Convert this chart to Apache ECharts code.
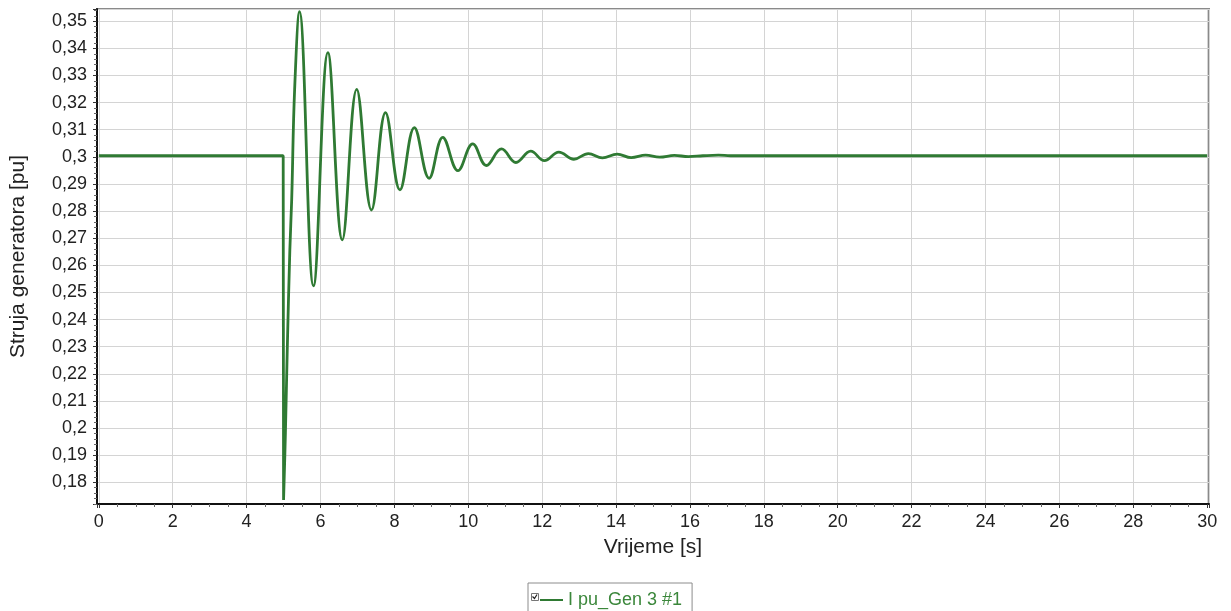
<!DOCTYPE html>
<html>
<head>
<meta charset="utf-8">
<script src="https://cdn.jsdelivr.net/npm/echarts@6/dist/echarts.min.js"></script>
<style>
  html, body { margin: 0; padding: 0; background: #ffffff; }
  #chart { width: 1231px; height: 611px; }
</style>
</head>
<body>
<div id="chart"></div>
<script>
// Time samples [s]
var times = [0, 4.99, 5.0, 5.05, 5.10, 5.17, 5.22, 5.30, 5.43, 5.81, 6.20, 6.59, 6.98, 7.38, 7.76, 8.15, 8.54, 8.94, 9.31, 9.72, 10.12, 10.49, 10.90, 11.29, 11.69, 12.06, 12.45, 12.86, 13.25, 13.63, 14.03, 14.41, 14.80, 15.18, 15.58, 15.96, 16.35, 16.77, 17.1, 30];
// Generator current [pu]
var currentPu = [0.3004, 0.3004, 0.1735, 0.1982, 0.2289, 0.2657, 0.2842, 0.3250, 0.3535, 0.2524, 0.3384, 0.2694, 0.3249, 0.2804, 0.3163, 0.2878, 0.3108, 0.2921, 0.3072, 0.2949, 0.3048, 0.2968, 0.3029, 0.2979, 0.3021, 0.2986, 0.3017, 0.2991, 0.3012, 0.2996, 0.3010, 0.2997, 0.3006, 0.2999, 0.3005, 0.3001, 0.3004, 0.3006, 0.3004, 0.3004];
var seriesName = 'I pu_Gen 3 #1';
var xAxisName = 'Vrijeme [s]';
var yAxisName = 'Struja generatora [pu]';

var data = times.map(function (t, i) { return [t, currentPu[i]]; });

var chart = echarts.init(document.getElementById('chart'), null, { renderer: 'canvas' });
var FONT = '"Liberation Sans", Arial, sans-serif';

chart.setOption({
  animation: false,
  backgroundColor: '#ffffff',
  grid: {
    left: 96, right: 22, top: 9, bottom: 107,
    show: true, borderColor: '#8a8a8a', borderWidth: 2, backgroundColor: 'transparent'
  },
  xAxis: {
    type: 'value',
    min: -0.05, max: 30.05,
    minInterval: 2, maxInterval: 2, splitNumber: 15,
    name: xAxisName,
    nameLocation: 'middle', nameGap: 33,
    nameTextStyle: { fontFamily: FONT, fontSize: 21, color: '#222' },
    axisLine: { show: true, onZero: false, lineStyle: { color: '#111', width: 2 } },
    axisTick: { show: true, length: 4, lineStyle: { color: '#333' } },
    minorTick: { show: true, splitNumber: 4, length: 3, lineStyle: { color: '#666' } },
    axisLabel: {
      fontFamily: FONT, fontSize: 18, color: '#222', margin: 9,
      showMinLabel: false, showMaxLabel: false,
      formatter: function (v) { return String(Math.round(v)); }
    },
    splitLine: { show: true, lineStyle: { color: '#d4d4d4', width: 1 } }
  },
  yAxis: {
    type: 'value',
    min: 0.172, max: 0.3545,
    minInterval: 0.01, maxInterval: 0.01, splitNumber: 18,
    name: yAxisName,
    nameLocation: 'middle', nameGap: 68,
    nameTextStyle: { fontFamily: FONT, fontSize: 21, color: '#222' },
    axisLine: { show: true, onZero: false, lineStyle: { color: '#111', width: 2 } },
    axisTick: { show: true, length: 4, lineStyle: { color: '#333' } },
    minorTick: { show: true, splitNumber: 5, length: 3, lineStyle: { color: '#666' } },
    axisLabel: {
      fontFamily: FONT, fontSize: 18, color: '#222', margin: 10,
      showMinLabel: false, showMaxLabel: false,
      formatter: function (v) { return String(+v.toFixed(2)).replace('.', ','); }
    },
    splitLine: { show: true, lineStyle: { color: '#d4d4d4', width: 1 } }
  },
  legend: {
    data: [seriesName],
    left: 528, top: 583,
    padding: [8, 10, 12, 12],
    borderColor: '#8c8c8c', borderWidth: 1,
    icon: 'rect', itemWidth: 23, itemHeight: 2,
    textStyle: { fontFamily: FONT, fontSize: 18, color: '#3b873b' }
  },
  graphic: [
    { type: 'rect', left: 531, top: 593, shape: { width: 7, height: 7 }, style: { fill: '#fff', stroke: '#777', lineWidth: 1 }, z: 100 },
    { type: 'polyline', shape: { points: [[532.5, 596.5], [534.5, 598.5], [537, 594.5]] }, style: { stroke: '#222', lineWidth: 1.2, fill: null }, z: 101 }
  ],
  series: [{
    name: seriesName,
    type: 'line',
    data: data,
    showSymbol: false,
    symbol: 'none',
    smooth: 0.4,
    lineStyle: { color: '#2f7a33', width: 2.8 },
    itemStyle: { color: '#2f7a33' }
  }]
});
</script>
</body>
</html>
